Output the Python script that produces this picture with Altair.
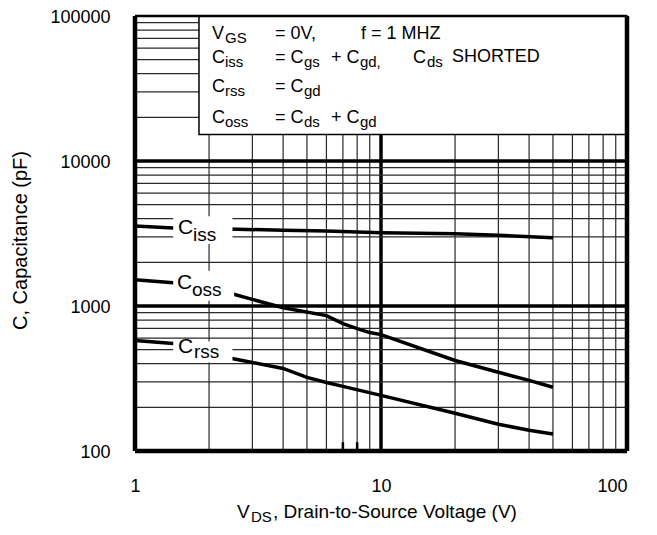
import altair as alt
import pandas as pd

# ---- curve data ----
ciss_v = [1, 1.43, 2.4, 4, 6, 10, 20, 30, 50]
ciss_c = [3557, 3446, 3394, 3330, 3287, 3200, 3150, 3070, 2960]
coss_v = [1, 1.43, 2.48, 3, 4, 6, 7, 8, 9, 10, 20, 30, 40, 50]
coss_c = [1515, 1445, 1214, 1110, 973, 858, 756, 699, 656, 635, 421, 349, 307, 275]
crss_v = [1, 1.43, 2.48, 3, 4, 5, 6, 7, 10, 20, 30, 40, 50]
crss_c = [578, 551, 435, 408, 371, 322, 297, 279, 242, 182, 153, 139, 131]

# ---- axes / grid ----
x_ticks = [1, 10, 100]
y_ticks = [100, 1000, 10000, 100000]
x_minor = [2, 3, 4, 5, 6, 7, 8, 9, 20, 30, 40, 50, 60, 70, 80, 90]
x_major = [10]
y_minor = [200, 300, 400, 500, 600, 700, 800, 900,
           2000, 3000, 4000, 5000, 6000, 7000, 8000, 9000,
           20000, 30000, 40000, 50000, 60000, 70000, 80000, 90000]
y_major = [1000, 10000]
x_border = [1, 100]
y_border_bottom = [100]
y_border_top = [100000]
stub_v = [7, 8]

# ---- annotation box text (main pieces and subscripts) ----
box_main_text = ["V", "= 0V,", "f = 1 MHZ",
                 "C", "= C", "+ C", "C", "SHORTED",
                 "C", "= C",
                 "C", "= C", "+ C"]
box_main_v = [2.056, 3.708, 8.291,
              2.056, 3.708, 6.262, 13.49, 19.44,
              2.056, 3.708,
              2.056, 3.708, 6.262]
box_main_c = [69420, 69420, 69420,
              47500, 47500, 47500, 47500, 48300,
              30040, 30040,
              18400, 18400, 18400]
box_sub_text = ["GS", "iss", "gs", "gd,", "ds", "rss", "gd", "oss", "ds", "gd"]
box_sub_v = [2.322, 2.322, 4.864, 8.21, 15.38, 2.322, 4.864, 2.322, 4.864, 8.21]
box_sub_c = [65160, 44600, 44600, 44600, 44600, 28200, 28200, 17280, 17280, 17280]

# curve labels
lab_main_text = ["C", "C", "C"]
lab_main_v = [1.496, 1.482, 1.496]
lab_main_c = [3135, 1314, 470.6]
lab_sub_text = ["iss", "oss", "rss"]
lab_sub_v = [1.72, 1.705, 1.737]
lab_sub_c = [2807, 1177, 434.8]
lab_box_v1 = [1.43, 1.43, 1.43]
lab_box_v2 = [2.49, 2.53, 2.49]
lab_box_c1 = [2677, 1087, 408]
lab_box_c2 = [4167, 1747, 570]

# legend box extent
box_v1, box_v2 = [1.82], [100]
box_c1, box_c2 = [15230], [100000]

# x-axis title pieces
xt_text = ["V", ", Drain-to-Source Voltage (V)"]
xt_v = [2.598, 3.639]
xt_c = [34.7, 34.7]
xt_sub_text = ["DS"]
xt_sub_v = [2.962]
xt_sub_c = [32.6]

FONT = "Liberation Sans"

xs = alt.Scale(type="log", domain=[1, 100], nice=False)
ys = alt.Scale(type="log", domain=[100, 100000], nice=False)

x_axis = alt.Axis(values=x_ticks, format="d", grid=False, ticks=False, tickSize=0,
                  domain=False, labelFont=FONT, labelFontSize=18, labelColor="black",
                  labelPadding=26, labelAlign={"expr": "datum.value >= 100 ? 'right' : 'center'"},
                  title=None)
y_axis = alt.Axis(values=y_ticks, format="d", grid=False, ticks=False, tickSize=0,
                  domain=False, labelFont=FONT, labelFontSize=18, labelColor="black",
                  labelPadding=25, labelOffset=1, title="C, Capacitance (pF)", titleFont=FONT,
                  titleFontSize=20, titleFontWeight="normal", titleColor="black",
                  titleAngle=270, titleX=-115, titleY=224, titleBaseline="middle")


def X(field):
    return alt.X(field, type="quantitative", scale=xs, axis=x_axis)


def Y(field):
    return alt.Y(field, type="quantitative", scale=ys, axis=y_axis)


curves = pd.DataFrame(
    [{"series": "Ciss", "v": v, "c": c} for v, c in zip(ciss_v, ciss_c)]
    + [{"series": "Coss", "v": v, "c": c} for v, c in zip(coss_v, coss_c)]
    + [{"series": "Crss", "v": v, "c": c} for v, c in zip(crss_v, crss_c)]
)

vminor = alt.Chart(pd.DataFrame({"v": x_minor})).mark_rule(
    color="#2a2a2a", strokeWidth=1.2).encode(x=X("v"))
vmajor = alt.Chart(pd.DataFrame({"v": x_major})).mark_rule(
    color="black", strokeWidth=3.5).encode(x=X("v"))
hminor = alt.Chart(pd.DataFrame({"c": y_minor})).mark_rule(
    color="#2a2a2a", strokeWidth=1.2).encode(y=Y("c"))
hmajor = alt.Chart(pd.DataFrame({"c": y_major})).mark_rule(
    color="black", strokeWidth=3.5).encode(y=Y("c"))
stubs = alt.Chart(pd.DataFrame({"v": stub_v, "lo": [100] * len(stub_v),
                                "hi": [115] * len(stub_v)})).mark_rule(
    color="black", strokeWidth=2.5).encode(x=X("v"), y=Y("lo"), y2="hi")

legend_box = alt.Chart(pd.DataFrame({"v1": box_v1, "v2": box_v2, "c1": box_c1, "c2": box_c2})).mark_rect(
    fill="white", stroke="black", strokeWidth=1.5).encode(x=X("v1"), x2="v2", y=Y("c1"), y2="c2")

lines = alt.Chart(curves).mark_line(color="black", strokeWidth=3.5).encode(
    x=X("v"), y=Y("c"), detail="series:N")

label_boxes = alt.Chart(pd.DataFrame({"v1": lab_box_v1, "v2": lab_box_v2,
                                      "c1": lab_box_c1, "c2": lab_box_c2})).mark_rect(
    fill="white").encode(x=X("v1"), x2="v2", y=Y("c1"), y2="c2")


def text_layer(texts, vs, cs, size):
    df = pd.DataFrame({"t": texts, "v": vs, "c": cs})
    return alt.Chart(df).mark_text(align="left", baseline="alphabetic", font=FONT,
                                   fontSize=size, color="black").encode(
        x=X("v"), y=Y("c"), text="t:N")


box_main = text_layer(box_main_text, box_main_v, box_main_c, 18)
box_sub = text_layer(box_sub_text, box_sub_v, box_sub_c, 15)
lab_main = text_layer(lab_main_text, lab_main_v, lab_main_c, 21)
lab_sub = text_layer(lab_sub_text, lab_sub_v, lab_sub_c, 19)
xt_main = text_layer(xt_text, xt_v, xt_c, 19)
xt_sub = text_layer(xt_sub_text, xt_sub_v, xt_sub_c, 15)

bord_v = alt.Chart(pd.DataFrame({"v": x_border})).mark_rule(
    color="black", strokeWidth=4.5).encode(x=X("v"))
bord_b = alt.Chart(pd.DataFrame({"c": y_border_bottom})).mark_rule(
    color="black", strokeWidth=4.5).encode(y=Y("c"))
bord_t = alt.Chart(pd.DataFrame({"c": y_border_top})).mark_rule(
    color="black", strokeWidth=2.5).encode(y=Y("c"))

chart = alt.layer(
    vminor, vmajor, hminor, hmajor, stubs, legend_box, lines, label_boxes,
    box_main, box_sub, lab_main, lab_sub, xt_main, xt_sub, bord_v, bord_b, bord_t
).properties(
    width=492, height=435,
    padding={"left": 127, "top": 8, "right": 22, "bottom": 76},
    autosize="none", background="white"
).configure_view(stroke=None)

chart.save("out.html", embed_options={"renderer": "svg", "actions": False})
